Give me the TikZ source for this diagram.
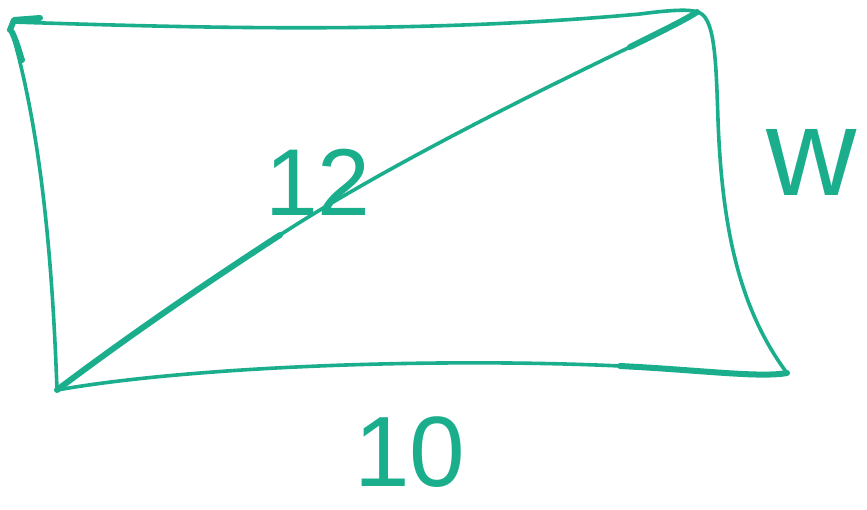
\documentclass[tikz,border=0pt]{standalone}
\usepackage{fontspec}
\setmainfont{Liberation Sans}
\definecolor{ink}{HTML}{1AAE8C}
\begin{document}
\begin{tikzpicture}[x=1pt,y=-1pt,
  pen/.style={draw=ink,line width=3.6pt,line cap=round,line join=round},
  thick pen/.style={draw=ink,line width=6pt,line cap=round,line join=round},
  lbl/.style={text=ink,inner sep=0pt,anchor=base,text depth=0pt}]
\useasboundingbox (0,0) rectangle (867,510);
\coordinate (tl) at (12,22);
\coordinate (tr) at (697,12);
\coordinate (br) at (787,373);
\coordinate (bl) at (57,390);
% top edge
\draw[pen] (tl) .. controls (200,28) and (420,34) .. (640,14) .. controls (670,10) and (690,9) .. (tr);
\draw[thick pen] (10,30) -- (14,20) -- (40,18);
% right edge
\draw[pen] (tr) .. controls (715,15) and (716,60) .. (718,120) .. controls (722,230) and (740,310) .. (br);
% bottom edge
\draw[pen] (bl) .. controls (200,365) and (450,358) .. (620,366);
\draw[thick pen] (620,366) .. controls (700,370) and (760,378) .. (br);
% left edge
\draw[thick pen] (12,32) .. controls (18,45) and (20,55) .. (22,60);
\draw[pen] (12,32) .. controls (40,130) and (52,250) .. (bl);
% diagonal
\draw[thick pen] (bl) .. controls (110,350) and (180,300) .. (280,235);
\draw[pen] (280,235) .. controls (380,170) and (520,100) .. (630,47);
\draw[thick pen] (630,47) .. controls (660,32) and (685,20) .. (tr);
% labels
\node[lbl,text height=70pt,font=\fontsize{95}{95}\selectfont] (n12) at (318,216) {12};
\node[lbl,text height=74pt,font=\fontsize{100}{100}\selectfont] (n10) at (410,486) {10};
\node[lbl,text height=66pt,font=\fontsize{125}{125}\selectfont] (nw) at (812,196) {w};
\end{tikzpicture}
\end{document}
